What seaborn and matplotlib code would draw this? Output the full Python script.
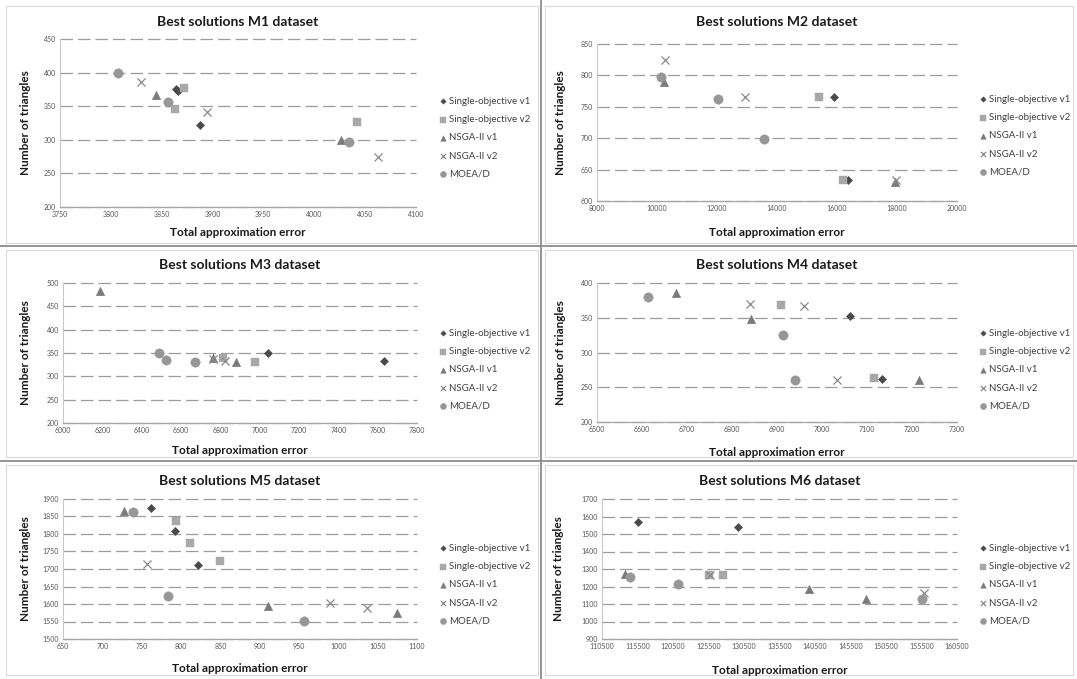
import matplotlib
matplotlib.use("Agg")
import matplotlib.pyplot as plt
from matplotlib.lines import Line2D
from matplotlib.patches import Rectangle
import seaborn as sns
import pandas as pd

# ---------------- data ----------------
series_names = ["Single-objective v1", "Single-objective v2", "NSGA-II v1", "NSGA-II v2", "MOEA/D"]
titles = ["Best solutions M1 dataset", "Best solutions M2 dataset", "Best solutions M3 dataset",
          "Best solutions M4 dataset", "Best solutions M5 dataset", "Best solutions M6 dataset"]

M1_series = [0, 0, 0, 1, 1, 1, 2, 2, 3, 3, 3, 4, 4, 4]
M1_x = [3864, 3866, 3888, 3872, 3863, 4042, 3844, 4026, 3830, 3895, 4063, 3807, 3856, 4034]
M1_y = [375, 372, 322, 377, 346, 327, 366, 300, 386, 342, 275, 400, 356, 296]

M2_series = [0, 0, 1, 1, 2, 2, 3, 3, 3, 4, 4, 4]
M2_x = [15900, 16350, 15400, 16200, 10220, 17950, 10260, 12920, 17980, 10140, 12030, 13560]
M2_y = [765, 633, 765, 633, 789, 630, 824, 766, 633, 797, 762, 698]

M3_series = [0, 0, 1, 1, 2, 2, 2, 3, 3, 4, 4, 4]
M3_x = [7044, 7630, 6812, 6976, 6190, 6763, 6879, 6761, 6823, 6489, 6526, 6671]
M3_y = [350, 333, 339, 330, 482, 340, 330, 338, 333, 349, 335, 330]

M4_series = [0, 0, 1, 1, 2, 2, 2, 3, 3, 3, 4, 4, 4]
M4_x = [7063, 7133, 6909, 7116, 6676, 6842, 7216, 6839, 6961, 7033, 6613, 6913, 6939]
M4_y = [353, 262, 368, 264, 386, 348, 260, 370, 367, 260, 380, 325, 260]

M5_series = [0, 0, 0, 1, 1, 1, 2, 2, 2, 3, 3, 3, 4, 4, 4]
M5_x = [762, 792, 822, 794, 811, 850, 728, 911, 1074, 757, 989, 1036, 739, 784, 956]
M5_y = [1873, 1809, 1710, 1837, 1773, 1724, 1866, 1594, 1574, 1714, 1602, 1588, 1862, 1623, 1552]

M6_series = [0, 0, 1, 1, 2, 2, 2, 3, 3, 4, 4, 4]
M6_x = [115500, 129650, 125600, 127600, 113700, 139600, 147700, 125650, 155900, 114400, 121200, 155570]
M6_y = [1570, 1538, 1266, 1266, 1270, 1186, 1127, 1266, 1161, 1256, 1214, 1129]

M1_xticks = list(range(3750, 4101, 50));    M1_yticks = list(range(200, 451, 50))
M2_xticks = list(range(8000, 20001, 2000)); M2_yticks = list(range(600, 851, 50))
M3_xticks = list(range(6000, 7801, 200));   M3_yticks = list(range(200, 501, 50))
M4_xticks = list(range(6500, 7301, 100));   M4_yticks = list(range(200, 401, 50))
M5_xticks = list(range(650, 1101, 50));     M5_yticks = list(range(1500, 1901, 50))
M6_xticks = list(range(110500, 160501, 5000)); M6_yticks = list(range(900, 1701, 100))

panels = [
    (M1_series, M1_x, M1_y, M1_xticks, M1_yticks),
    (M2_series, M2_x, M2_y, M2_xticks, M2_yticks),
    (M3_series, M3_x, M3_y, M3_xticks, M3_yticks),
    (M4_series, M4_x, M4_y, M4_xticks, M4_yticks),
    (M5_series, M5_x, M5_y, M5_xticks, M5_yticks),
    (M6_series, M6_x, M6_y, M6_xticks, M6_yticks),
]

# ---------------- style ----------------
sns.set_theme(style="white")
plt.rcParams["font.family"] = ["Lato", "DejaVu Sans"]

markers = ["D", "s", "^", "x", "o"]
colors = ["#4a4a4a", "#a8a8a8", "#7a7a7a", "#8a8a8a", "#979797"]
sizes = [18, 34, 38, 34, 46]

W, H = 1077, 679
fig = plt.figure(figsize=(W / 100, H / 100), dpi=100)
fig.patch.set_facecolor("white")

# pixel layout: (x0, ytop, x1, ybottom) of plot area, title y, xlabel y, ylabel x, legend x, legend top y
layout = [
    (60, 39, 416, 207, 22, 232, 26, 438, 97),
    (597, 44, 957, 201, 22, 233, 560, 978, 95),
    (63, 283, 417, 423, 265, 450, 26, 438, 329),
    (597, 283, 957, 422, 265, 452, 560, 978, 329),
    (63, 499, 417, 639, 481, 668, 26, 438, 544),
    (602, 499, 957, 639, 481, 670, 558, 978, 544),
]

def fx(px):
    return px / W

def fy(py):
    return 1 - py / H

# chart borders and dividers
for (bx0, by0, bx1, by1) in [(6, 6, 538, 243), (545, 6, 1073, 243), (6, 250, 538, 457),
                             (545, 250, 1073, 457), (6, 465, 538, 675), (545, 465, 1073, 675)]:
    fig.add_artist(Rectangle((fx(bx0), fy(by1)), fx(bx1 - bx0), (by1 - by0) / H,
                             transform=fig.transFigure, fill=False, ec="#d9d9d9", lw=0.8))
fig.add_artist(Line2D([fx(541), fx(541)], [0, 1], transform=fig.transFigure, color="#8c8c8c", lw=1.3))
for yy in (246, 461):
    fig.add_artist(Line2D([0, 1], [fy(yy), fy(yy)], transform=fig.transFigure, color="#8c8c8c", lw=1.3))

for i, ((ser, xs, ys, xt, yt), lay) in enumerate(zip(panels, layout)):
    x0, yt0, x1, yb0, ty, xly, ylx, lgx, lgy = lay
    ax = fig.add_axes([fx(x0), fy(yb0), (x1 - x0) / W, (yb0 - yt0) / H])
    df = pd.DataFrame({"x": xs, "y": ys, "s": ser})
    for k in range(5):
        sub = df[df["s"] == k]
        if k == 3:
            sns.scatterplot(data=sub, x="x", y="y", marker=markers[k], color=colors[k],
                            s=sizes[k], linewidth=0.9, ax=ax, label=series_names[k], zorder=3 + k)
        else:
            sns.scatterplot(data=sub, x="x", y="y", marker=markers[k], color=colors[k],
                            s=sizes[k], edgecolor=colors[k], linewidth=0.3, ax=ax,
                            label=series_names[k], zorder=3 + k)
    ax.set_xlim(xt[0], xt[-1])
    ax.set_ylim(yt[0], yt[-1])
    ax.set_xticks(xt)
    ax.set_yticks(yt)
    ax.set_xticklabels([str(v) for v in xt])
    ax.set_yticklabels([str(v) for v in yt])
    ax.tick_params(axis="both", length=0, labelsize=5, labelcolor="#555555", pad=3)
    ax.set_xlabel("")
    ax.set_ylabel("")
    ax.yaxis.grid(True, linestyle=(0, (10, 4)), color="#9c9c9c", lw=0.9)
    ax.xaxis.grid(False)
    for sp in ("top", "right"):
        ax.spines[sp].set_visible(False)
    ax.spines["left"].set_color("#c8c8c8")
    ax.spines["bottom"].set_color("#a6a6a6")
    ax.spines["left"].set_linewidth(0.8)
    ax.spines["bottom"].set_linewidth(0.9)
    ax.set_facecolor("white")
    for gl in ax.get_ygridlines():
        gl.set_clip_on(False)

    h, l = ax.get_legend_handles_labels()
    ax.legend(h, l, loc="upper left", bbox_to_anchor=(fx(lgx), fy(lgy)),
              bbox_transform=fig.transFigure, frameon=False, fontsize=7,
              labelcolor="#404040", handletextpad=0.1, handlelength=1.0,
              labelspacing=0.95, markerscale=0.65, borderpad=0, borderaxespad=0)

    cx = (x0 + x1) / 2
    fig.text(fx(cx), fy(ty), titles[i], ha="center", va="center", fontsize=10,
             fontweight="bold", color="#1a1a1a")
    fig.text(fx(cx), fy(xly), "Total approximation error", ha="center", va="center",
             fontsize=8.5, fontweight="bold", color="#1a1a1a")
    fig.text(fx(ylx), fy((yt0 + yb0) / 2), "Number of triangles", ha="center", va="center",
             rotation=90, fontsize=8.5, fontweight="bold", color="#1a1a1a")

fig.savefig("out.png", dpi=100, facecolor="white")
